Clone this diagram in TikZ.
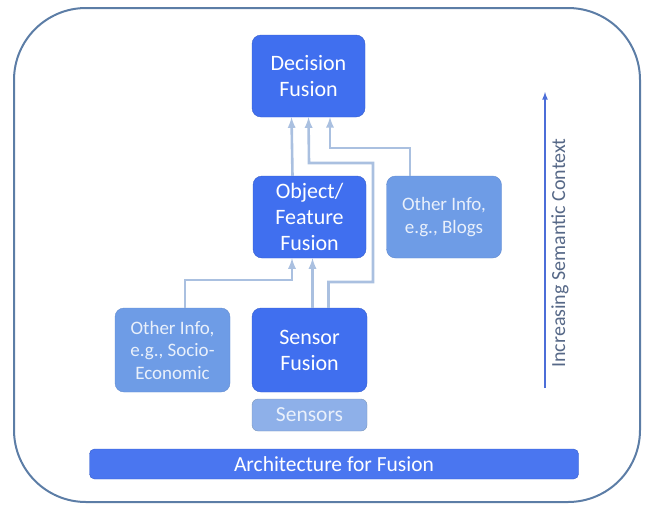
\documentclass[tikz,border=0pt]{standalone}
\usepackage{fontspec}
\setmainfont{Carlito}
\usepackage{tikz}
\usetikzlibrary{shapes,arrows,positioning}
\usepackage{xcolor}

\definecolor{fusionblue}{RGB}{64,111,239}
\definecolor{infoblue}{RGB}{110,156,230}
\definecolor{sensorblue}{RGB}{142,176,233}
\definecolor{linkblue}{RGB}{170,192,224}
\definecolor{frameblue}{RGB}{92,125,166}
\definecolor{axisblue}{RGB}{76,110,216}
\definecolor{axistext}{RGB}{86,104,135}

\tikzset{
    fusion/.style={draw=fusionblue!85!black, fill=fusionblue, rounded corners=9pt, text=white,
        align=center, minimum width=113pt, minimum height=82pt, inner sep=2pt,
        font=\fontsize{22}{26}\selectfont},
    info/.style={draw=infoblue!90!black, fill=infoblue, rounded corners=9pt, text=white!85!infoblue,
        align=center, minimum width=115pt, minimum height=82pt, inner sep=2pt,
        font=\fontsize{19}{22.5}\selectfont},
    link/.style={draw=linkblue, line width=2.6pt, ->, >=latex}
}

\begin{document}
\begin{tikzpicture}[x=1pt, y=-1pt]
    \useasboundingbox (0,0) rectangle (645,506);

    % Frame
    \draw[frameblue, line width=2pt, rounded corners=72pt] (14,8) rectangle (640,502);

    % Boxes
    \node[fusion] (decision) at (308.5,76) {Decision\\Fusion};
    \node[fusion] (objfeat) at (309.5,217) {Object/\\Feature\\Fusion};
    \node[info] (blogs) at (444,217) {Other Info,\\e.g., Blogs};
    \node[fusion, minimum width=115pt, minimum height=84pt] (sensor) at (309.5,350) {Sensor\\Fusion};
    \node[info, minimum height=84pt] (socio) at (172.5,350) {Other Info,\\e.g., Socio-\\Economic};
    \node[info, draw=frameblue!80, fill=sensorblue, minimum height=32pt, rounded corners=6pt,
        font=\fontsize{21.5}{24}\selectfont] (sensors) at (309.5,415) {Sensors};
    \node[fusion, fill=fusionblue!95!white, minimum width=489pt, minimum height=30pt,
        rounded corners=5pt, font=\fontsize{21.5}{24}\selectfont] (arch) at (334,464) {Architecture for Fusion};

    % Arrows
    \draw[link] ([xshift=-17pt]objfeat.north) -- ([xshift=-17pt]decision.south);
    \draw[link] ([xshift=19pt]sensor.north) |- (373,282) |- (309,163) -- (decision.south);
    \draw[link] ([xshift=-34pt]blogs.north) |- (330,148) -- (330,117);
    \draw[link] ([xshift=12.5pt]socio.north) |- (292,280) -- ([xshift=-17.5pt]objfeat.south);
    \draw[link] ([xshift=3pt]sensor.north) -- ([xshift=3pt]objfeat.south);

    % Context axis
    \coordinate (axisbot) at (545,388);
    \coordinate (axistop) at (545,92);
    \draw[axisblue, line width=1.6pt, ->, >=latex] (axisbot) -- (axistop);
    \node[rotate=90, text=axistext, font=\fontsize{20}{22}\selectfont, anchor=north, inner sep=1pt] (axislabel)
        at (550,253) {Increasing Semantic Context};
\end{tikzpicture}
\end{document}
